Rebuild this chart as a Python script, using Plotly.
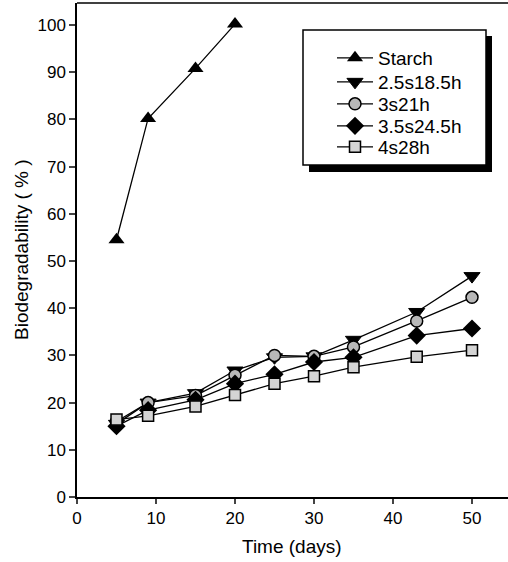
import plotly.graph_objects as go

days_starch = [5, 9, 15, 20]
starch = [54.5, 80.2, 90.8, 100.2]

days = [5, 9, 15, 20, 25, 30, 35, 43, 50]
s25 = [15.5, 20.0, 22.0, 26.8, 29.6, 29.8, 33.3, 39.2, 46.8]
s3 = [16.0, 20.0, 21.5, 25.8, 30.0, 29.8, 31.8, 37.3, 42.3]
s35 = [15.0, 18.4, 20.6, 24.0, 26.0, 28.6, 29.6, 34.2, 35.7]
s4 = [16.4, 17.2, 19.2, 21.6, 24.0, 25.6, 27.5, 29.7, 31.1]

names = ["Starch", "2.5s18.5h", "3s21h", "3.5s24.5h", "4s28h"]
x_ticks = [0, 10, 20, 30, 40, 50]
y_ticks = [0, 10, 20, 30, 40, 50, 60, 70, 80, 90, 100]

W, H = 508, 562
L, R, T, B = 77, 0, 3, 65
pw, ph = W - L - R, H - T - B


def px_x(v):
    return (v - L) / pw


def px_y(v):
    return 1 - (v - T) / ph


font = "Liberation Sans, Arial, sans-serif"
line = dict(color="black", width=1.3)
legend_ids = ["legend", "legend2", "legend3", "legend4", "legend5"]
legend_rows = [58, 82, 104, 126, 147]

fig = go.Figure()
fig.add_trace(go.Scatter(x=days_starch, y=starch, name=names[0], mode="lines+markers", legend=legend_ids[0],
                         line=line, marker=dict(symbol="triangle-up", size=14, color="black")))
fig.add_trace(go.Scatter(x=days, y=s25, name=names[1], mode="lines+markers", legend=legend_ids[1],
                         line=line, marker=dict(symbol="triangle-down", size=14, color="black",
                                                line=dict(color="black", width=1))))
fig.add_trace(go.Scatter(x=days, y=s3, name=names[2], mode="lines+markers", legend=legend_ids[2],
                         line=line, marker=dict(symbol="circle", size=12, color="#b8b8b8",
                                                line=dict(color="black", width=1.5))))
fig.add_trace(go.Scatter(x=days, y=s35, name=names[3], mode="lines+markers", legend=legend_ids[3],
                         line=line, marker=dict(symbol="diamond", size=14, color="black")))
fig.add_trace(go.Scatter(x=days, y=s4, name=names[4], mode="lines+markers", legend=legend_ids[4],
                         line=line, marker=dict(symbol="square", size=11, color="#d4d4d4",
                                                line=dict(color="black", width=1.5))))

shapes = [
    dict(type="rect", xref="paper", yref="paper", x0=px_x(309), x1=px_x(492), y0=px_y(172), y1=px_y(36),
         fillcolor="black", line=dict(width=0), layer="below"),
    dict(type="rect", xref="paper", yref="paper", x0=px_x(303), x1=px_x(486), y0=px_y(165), y1=px_y(30),
         fillcolor="white", line=dict(color="black", width=1.5), layer="below"),
    dict(type="line", xref="paper", yref="paper", x0=0, x1=1, y0=1, y1=1,
         line=dict(color="black", width=1.5)),
]

legends = {}
for lid, row in zip(legend_ids, legend_rows):
    legends[lid] = dict(x=px_x(332), y=px_y(row), xanchor="left", yanchor="middle",
                        bgcolor="rgba(0,0,0,0)", borderwidth=0, itemwidth=36,
                        font=dict(size=19, family=font, color="black"))

annotations = [
    dict(text="Biodegradability ( % )", xref="paper", yref="paper", x=px_x(21), y=px_y(250),
         xanchor="center", yanchor="middle", textangle=-90, showarrow=False,
         font=dict(size=19, family=font, color="black")),
    dict(text="Time (days)", xref="paper", yref="paper", x=px_x(292), y=px_y(546),
         xanchor="center", yanchor="middle", showarrow=False,
         font=dict(size=19, family=font, color="black")),
]

fig.update_layout(
    width=W, height=H, margin=dict(l=L, r=R, t=T, b=B, autoexpand=False),
    paper_bgcolor="white", plot_bgcolor="white",
    font=dict(family=font, color="black", size=17),
    showlegend=True,
    shapes=shapes,
    annotations=annotations,
    xaxis=dict(range=[0, pw / 7.9], tickvals=x_ticks, ticks="outside", ticklen=5, tickwidth=1.5,
               showline=True, linecolor="black", linewidth=1.5, showgrid=False, zeroline=False,
               automargin=False, tickfont=dict(size=17)),
    yaxis=dict(range=[0, ph / 4.72], tickvals=y_ticks, ticks="outside", ticklen=6, tickwidth=1.5,
               showline=True, linecolor="black", linewidth=1.5, showgrid=False, zeroline=False,
               automargin=False, tickfont=dict(size=17)),
    **legends,
)

fig.write_html("out.html", config={"displayModeBar": False},
               post_script="document.body.style.margin='0';document.body.style.overflow='hidden';")
